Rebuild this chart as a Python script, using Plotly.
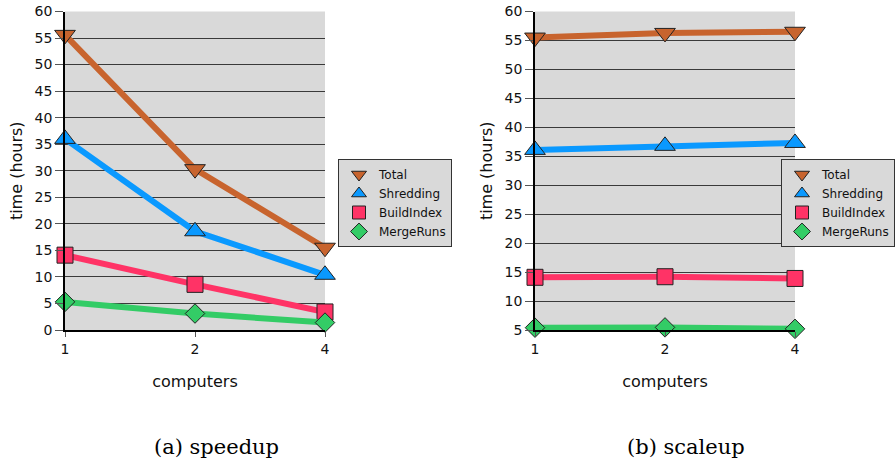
import plotly.graph_objects as go

computers = ["1", "2", "4"]
series_names = ["Total", "Shredding", "BuildIndex", "MergeRuns"]

speedup_total = [55.6, 30.3, 15.5]
speedup_shredding = [36.0, 18.6, 10.4]
speedup_buildindex = [14.1, 8.6, 3.4]
speedup_mergeruns = [5.3, 3.1, 1.4]

scaleup_total = [55.5, 56.3, 56.5]
scaleup_shredding = [36.1, 36.8, 37.3]
scaleup_buildindex = [14.1, 14.2, 13.9]
scaleup_mergeruns = [5.4, 5.45, 5.2]

colors = ["#C8642E", "#0A99FF", "#FF3366", "#33CC66"]
symbols = ["triangle-down", "triangle-up", "square", "diamond"]
msizes = [18, 18, 16, 15]

W, H = 896, 463
def px(x):
    return x / W
def py(y):
    return 1 - y / H

SANS = "DejaVu Sans"
fig = go.Figure()

panels = [
    ("x", "y", "legend", [speedup_total, speedup_shredding, speedup_buildindex, speedup_mergeruns]),
    ("x2", "y2", "legend2", [scaleup_total, scaleup_shredding, scaleup_buildindex, scaleup_mergeruns]),
]
for xa, ya, lg, data in panels:
    for name, vals, c, s, ms in zip(series_names, data, colors, symbols, msizes):
        fig.add_trace(go.Scatter(
            x=computers, y=vals, xaxis=xa, yaxis=ya, mode="lines+markers", name=name,
            line=dict(color=c, width=6), cliponaxis=False, showlegend=False,
            marker=dict(symbol=s, size=ms, color=c, line=dict(color="#222", width=1)),
        ))
    for name, c, s in zip(series_names, colors, symbols):
        fig.add_trace(go.Scatter(
            x=[None], y=[None], xaxis=xa, yaxis=ya, mode="markers", name=name, legend=lg,
            marker=dict(symbol=s, size=13, color=c, line=dict(color="#222", width=1)),
        ))

xcommon = dict(type="category", range=[0, 2], showgrid=False, showline=True, linecolor="black",
               linewidth=2, ticks="outside", ticklen=5, tickcolor="#555", automargin=False,
               tickfont=dict(family=SANS, size=14, color="#111"),
               title=dict(text="computers", font=dict(family=SANS, size=16, color="#111"), standoff=20),
               zeroline=False)
ycommon = dict(showgrid=True, gridcolor="#3a3a3a", gridwidth=1.2, showline=True, linecolor="black",
               linewidth=1.5, ticks="outside", ticklen=8, tickcolor="#555", dtick=5,
               automargin=False,
               tickfont=dict(family=SANS, size=14, color="#111"),
               title=dict(text="time (hours)", font=dict(family=SANS, size=16, color="#111"), standoff=8),
               zeroline=False)

legcommon = dict(bgcolor="#D9D9D9", bordercolor="#333", borderwidth=1,
                 font=dict(family=SANS, size=12, color="#111"), yanchor="top",
                 tracegroupgap=0, itemwidth=30)

fig.update_layout(
    width=W, height=H, margin=dict(l=0, r=0, t=0, b=0),
    paper_bgcolor="white", plot_bgcolor="#D9D9D9",
    xaxis=dict(xcommon, domain=[px(65), px(325)], anchor="y"),
    yaxis=dict(ycommon, domain=[py(330), py(11.5)], range=[0, 60], anchor="x"),
    xaxis2=dict(xcommon, domain=[px(535), px(795)], anchor="y2"),
    yaxis2=dict(ycommon, domain=[py(330), py(11.5)], range=[5, 60], anchor="x2"),
    legend=dict(legcommon, x=px(338), xanchor="left", y=py(159)),
    legend2=dict(legcommon, x=px(895), xanchor="right", y=py(159)),
    annotations=[
        dict(text="(a) speedup", x=px(216), y=py(447), xref="paper", yref="paper", showarrow=False,
             xanchor="center", yanchor="middle",
             font=dict(family="DejaVu Serif", size=21, color="black")),
        dict(text="(b) scaleup", x=px(686), y=py(447), xref="paper", yref="paper", showarrow=False,
             xanchor="center", yanchor="middle",
             font=dict(family="DejaVu Serif", size=21, color="black")),
    ],
)

fig.write_html("out.html", config={"displayModeBar": False},
               post_script="document.body.style.margin='0';document.body.style.padding='0';"
                           "document.body.style.overflow='hidden';")
